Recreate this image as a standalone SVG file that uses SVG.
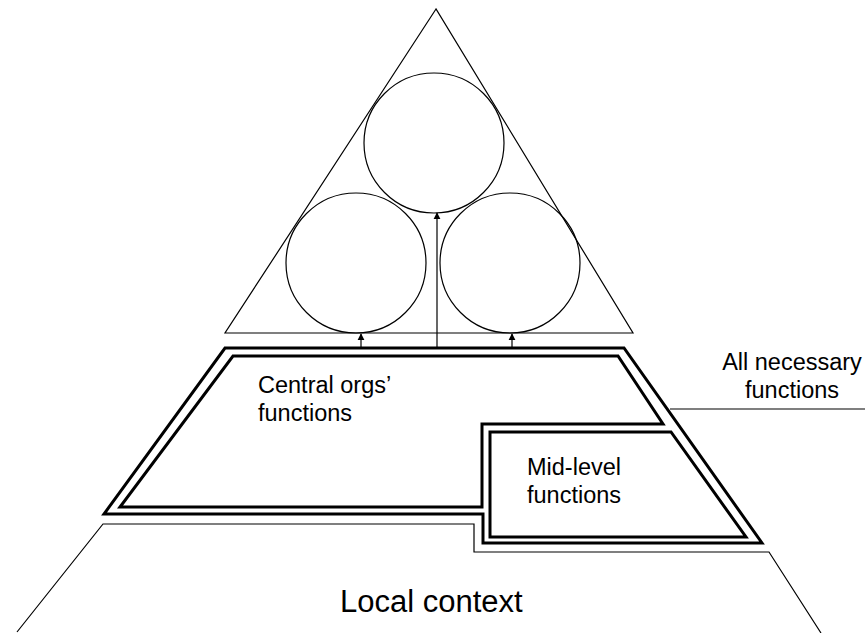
<svg xmlns="http://www.w3.org/2000/svg" width="865" height="633" viewBox="0 0 865 633">
  <defs>
    <style>
      .thin { fill: none; stroke: #000; stroke-width: 1.2; }
      .frame { fill: none; stroke: #000; stroke-width: 3; stroke-linejoin: miter; }
      .label { font-family: "Liberation Sans", Arial, sans-serif; font-size: 23.5px; fill: #000; }
      .big { font-family: "Liberation Sans", Arial, sans-serif; font-size: 31px; fill: #000; }
    </style>
    <marker id="arrow" viewBox="0 0 10 10" refX="9" refY="5" markerWidth="6" markerHeight="6" orient="auto">
      <path d="M0,0 L10,5 L0,10 z" fill="#000"/>
    </marker>
  </defs>

  <!-- Apex triangle with three circles -->
  <g id="apex">
    <polygon class="thin" points="436,9 225,333 633,333"/>
    <circle class="thin" cx="434" cy="143" r="70"/>
    <circle class="thin" cx="356" cy="263" r="70"/>
    <circle class="thin" cx="510" cy="263" r="70"/>
  </g>

  <!-- Local context base -->
  <g id="local-context">
    <polyline class="thin" points="17,632 103,524 474,524 474,552 769,552 821,633"/>
    <text class="big" x="340" y="612">Local context</text>
  </g>

  <!-- All necessary functions: outer frame -->
  <g id="all-necessary">
    <polygon class="frame" points="225,348 624,348 762,543 483,543 483,514 104,514"/>
    <line class="thin" x1="670" y1="409" x2="865" y2="409"/>
    <text class="label" x="792" y="370" text-anchor="middle">All necessary</text>
    <text class="label" x="792" y="398" text-anchor="middle">functions</text>
  </g>

  <!-- Central orgs' functions -->
  <g id="central">
    <polygon class="frame" points="233,356 618,356 663,424 482,424 482,507 120,507"/>
    <text class="label" x="258" y="393">Central orgs’</text>
    <text class="label" x="258" y="421">functions</text>
  </g>

  <!-- Mid-level functions -->
  <g id="mid-level">
    <polygon class="frame" points="490,432 671,432 746,537 490,537"/>
    <text class="label" x="527" y="475">Mid-level</text>
    <text class="label" x="527" y="503">functions</text>
  </g>

  <!-- Upward connectors from the frame to the circles -->
  <g id="connectors">
    <line class="thin" x1="361" y1="347" x2="361" y2="334" marker-end="url(#arrow)"/>
    <line class="thin" x1="437" y1="347" x2="437" y2="213" marker-end="url(#arrow)"/>
    <line class="thin" x1="512" y1="347" x2="512" y2="334" marker-end="url(#arrow)"/>
  </g>
</svg>
